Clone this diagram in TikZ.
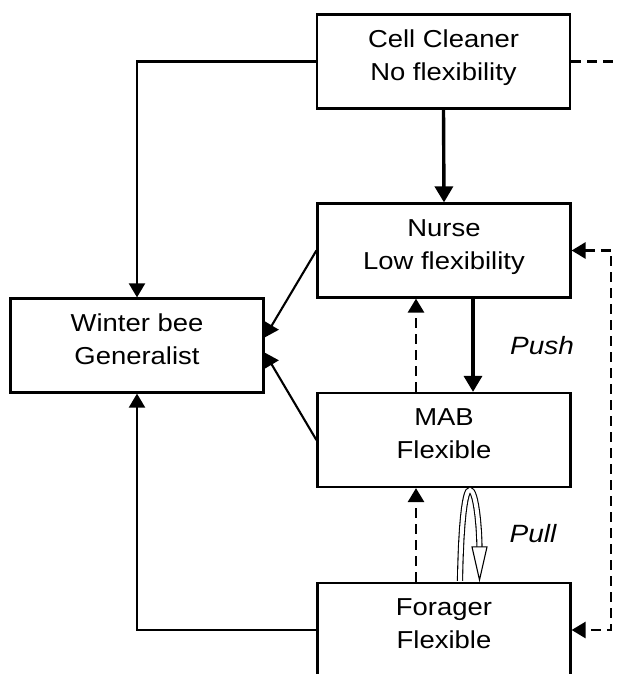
\documentclass[tikz,border=0pt]{standalone}
\usepackage{fontspec}
\setmainfont{Liberation Sans}[FakeStretch=1.12]
\usetikzlibrary{arrows.meta,calc}
\begin{document}
\begin{tikzpicture}[x=1pt,y=-1pt,
  box/.style={draw, line width=2.2pt, fill=white, minimum width=253pt,
    minimum height=94pt, align=center, inner sep=0pt,
    font=\fontsize{24.5}{33}\selectfont,
    execute at begin node={\rule{0pt}{20pt}},
    execute at end node={\rule[-12pt]{0pt}{12pt}}},
  tip/.tip={Triangle[length=14pt,width=16pt]},
  thinarrow/.style={line width=2.1pt, -tip},
  heavyarrow/.style={line width=3.4pt, -{Triangle[length=16pt,width=18pt]}},
  dashline/.style={line width=2.7pt, dash pattern=on 10pt off 6pt},
  dasharrow/.style={dashline, -tip},
  lab/.style={inner sep=0pt, font=\fontsize{25}{30}\selectfont\itshape}
]
\useasboundingbox (0,0) rectangle (617,674);
\clip (0,0) rectangle (617,674);
\fill[white] (0,0) rectangle (617,674);

% castes
\node[box] (cell)    at (443.5,61.5) {Cell Cleaner\\No flexibility};
\node[box] (nurse)   at (444,250.5)  {Nurse\\Low flexibility};
\node[box] (mab)     at (444,440)    {MAB\\Flexible};
\node[box] (forager) at (444,630)    {Forager\\Flexible};
\node[box] (winter)  at (137,345.5)  {Winter bee\\Generalist};

% helper columns on the right
\coordinate (rt)  at (611,0);
\coordinate (off) at (640,0);

% maturation sequence
\draw[heavyarrow] (cell.south) -- (nurse.north);
\draw[heavyarrow] ($(nurse.south)+(29,0)$) -- ($(mab.north)+(29,0)$);
\node[lab] (push) at (542,346) {Push};

% reversions
\draw[dasharrow] ($(mab.north)+(-28,0)$) -- ($(nurse.south)+(-28,0)$);
\draw[dasharrow] ($(forager.north)+(-28,0)$) -- ($(mab.south)+(-28,0)$);
\draw[dashline, tip-tip] (nurse.east) -- (nurse.east -| rt)
  -- (forager.east -| rt) -- (forager.east);
\draw[dashline] (cell.east) -- (cell.east -| off);

% pull loop between MAB and forager
\draw[line width=1.1pt, double=white, double distance=4pt]
  ($(forager.north)+(16,-1)$)
  .. controls ($(forager.north)+(17,-60)$) and ($(mab.south)+(21,1)$)
  .. ($(mab.south)+(26,2)$)
  .. controls ($(mab.south)+(31,2)$) and ($(mab.south)+(35,30)$)
  .. ($(forager.north)+(35.5,-34)$);
\draw[line width=1.1pt, fill=white]
  ($(forager.north)+(28,-35)$) -- ($(forager.north)+(43,-35)$)
  -- ($(forager.north)+(35.5,-2)$) -- cycle;
\node[lab] (pull) at (533,534) {Pull};

% transitions to winter bees
\draw[thinarrow] (cell.west) -| (winter.north);
\draw[thinarrow] (nurse.west) -- ($(winter.east)+(0,-8)$);
\draw[thinarrow] (mab.west) -- ($(winter.east)+(0,7)$);
\draw[thinarrow] (forager.west) -| (winter.south);
\end{tikzpicture}
\end{document}
